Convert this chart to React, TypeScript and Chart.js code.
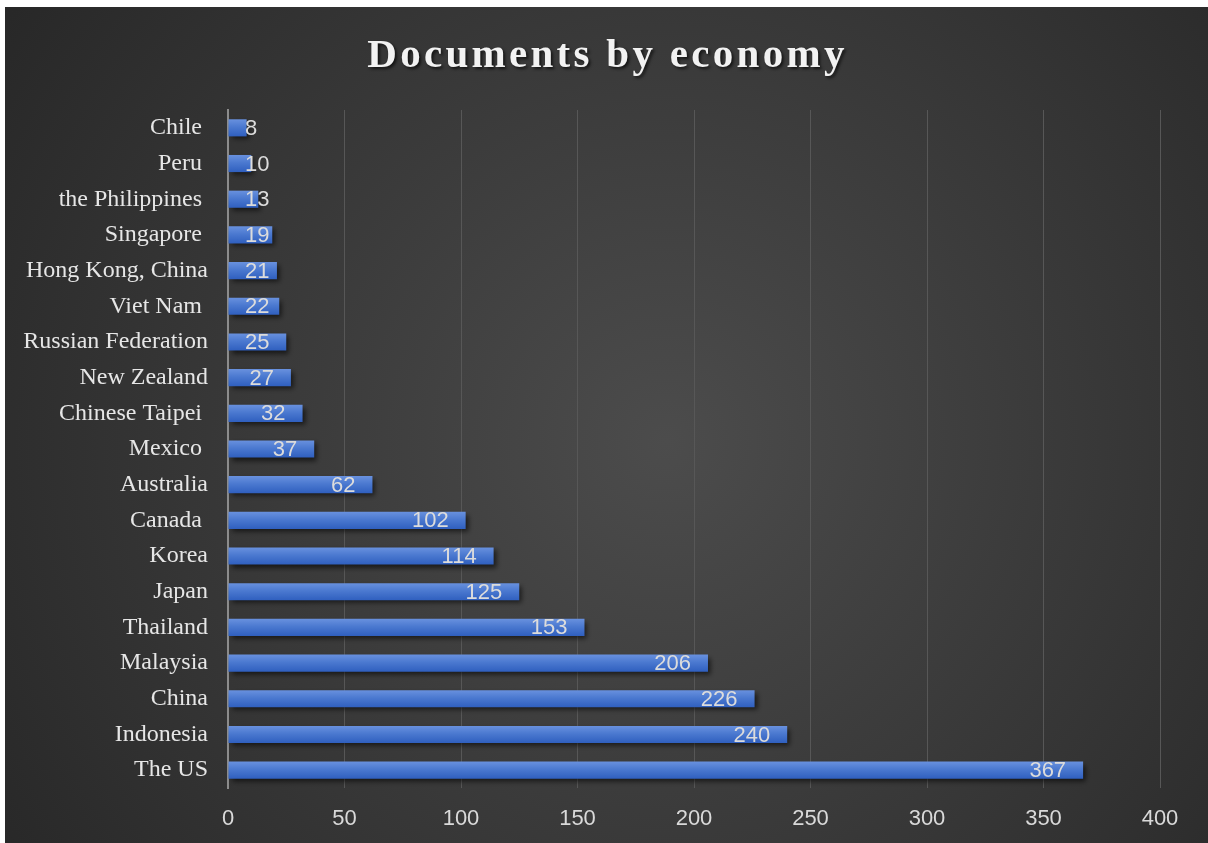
import React, { useEffect, useRef } from "react";
import { Chart, registerables } from "chart.js";

Chart.register(...registerables);

const TITLE = "Documents by economy";
const categories = [
  "Chile ",
  "Peru ",
  "the Philippines ",
  "Singapore ",
  "Hong Kong, China",
  "Viet Nam ",
  "Russian Federation",
  "New Zealand",
  "Chinese Taipei ",
  "Mexico ",
  "Australia",
  "Canada ",
  "Korea",
  "Japan",
  "Thailand",
  "Malaysia",
  "China",
  "Indonesia",
  "The US",
];
const documents = [8, 10, 13, 19, 21, 22, 25, 27, 32, 37, 62, 102, 114, 125, 153, 206, 226, 240, 367];
const xTicks = [0, 50, 100, 150, 200, 250, 300, 350, 400];

const W = 1203;
const H = 836;
const SERIF = "'Liberation Serif', 'Times New Roman', serif";
const SANS = "'Liberation Sans', Arial, sans-serif";

const bgPlugin = {
  id: "bgPlugin",
  beforeDraw(chart: any) {
    const { ctx, width, height } = chart;
    ctx.save();
    const g = ctx.createRadialGradient(width * 0.55, height * 0.52, 0, width * 0.55, height * 0.52, Math.hypot(width, height) * 0.58);
    g.addColorStop(0, "#4c4c4c");
    g.addColorStop(1, "#252525");
    ctx.fillStyle = g;
    ctx.fillRect(0, 0, width, height);
    ctx.restore();
  },
  afterDraw(chart: any) {
    const { ctx, width } = chart;
    ctx.save();
    ctx.font = `bold 41px ${SERIF}`;
    (ctx as any).letterSpacing = "3.3px";
    ctx.textAlign = "center";
    ctx.textBaseline = "alphabetic";
    ctx.fillStyle = "#f2f2f2";
    ctx.shadowColor = "rgba(0,0,0,0.65)";
    ctx.shadowBlur = 3;
    ctx.shadowOffsetX = 2;
    ctx.shadowOffsetY = 2;
    ctx.fillText(TITLE, width / 2 + 1, 60);
    ctx.restore();
  },
};

const shadowPlugin = {
  id: "shadowPlugin",
  beforeDatasetsDraw(chart: any) {
    const ctx = chart.ctx;
    ctx.save();
    ctx.shadowColor = "rgba(0,0,0,0.6)";
    ctx.shadowBlur = 5;
    ctx.shadowOffsetX = 3;
    ctx.shadowOffsetY = 3;
  },
  afterDatasetsDraw(chart: any) {
    const ctx = chart.ctx;
    ctx.restore();
    const meta = chart.getDatasetMeta(0);
    const left = chart.scales.x.getPixelForValue(0);
    ctx.save();
    ctx.font = `22px ${SANS}`;
    ctx.fillStyle = "#dcdcdc";
    ctx.textAlign = "left";
    ctx.textBaseline = "middle";
    meta.data.forEach((bar: any, i: number) => {
      const txt = String(documents[i]);
      const w = ctx.measureText(txt).width;
      const x = Math.max(bar.x - 17 - w, left + 17);
      ctx.fillText(txt, x, bar.y + 1);
    });
    ctx.restore();
  },
};

export default function App() {
  const ref = useRef<HTMLCanvasElement | null>(null);
  useEffect(() => {
    if (!ref.current) return;
    const chart = new Chart(ref.current, {
      type: "bar",
      data: {
        labels: categories,
        datasets: [
          {
            label: "Documents",
            data: documents,
            backgroundColor: (c: any) => {
              const ch = c.chart;
              const ys = ch.scales && ch.scales.y;
              if (!ys || c.dataIndex === undefined) return "#4a78cc";
              const y = ys.getPixelForValue(c.dataIndex);
              if (!isFinite(y)) return "#4a78cc";
              const g = ch.ctx.createLinearGradient(0, y - 9, 0, y + 9);
              g.addColorStop(0, "#6a92df");
              g.addColorStop(0.45, "#4b79d0");
              g.addColorStop(1, "#2e5ebe");
              return g;
            },
            borderWidth: 0,
            categoryPercentage: 1,
            barPercentage: 0.48,
          },
        ],
      },
      options: {
        indexAxis: "y",
        responsive: false,
        animation: false,
        layout: { padding: { top: 103, right: 48, left: 0, bottom: 0 } },
        plugins: {
          legend: { display: false },
          title: { display: false, text: TITLE },
          tooltip: { enabled: false },
        },
        scales: {
          x: {
            min: 0,
            max: 400,
            afterBuildTicks: (s: any) => {
              s.ticks = xTicks.map((v) => ({ value: v }));
            },
            afterFit: (s: any) => {
              s.height = 55;
            },
            grid: { color: "#575757", lineWidth: 1, drawTicks: false },
            border: { display: false },
            ticks: { color: "#d9d9d9", font: { family: SANS, size: 22 }, padding: 18 },
          },
          y: {
            afterFit: (s: any) => {
              s.width = 223;
            },
            grid: { display: false, drawTicks: false },
            border: { display: true, color: "#8c8c8c", width: 2 },
            ticks: { color: "#e6e6e6", font: { family: SERIF, size: 24 }, padding: 20 },
          },
        },
      },
      plugins: [bgPlugin, shadowPlugin],
    } as any);
    return () => chart.destroy();
  }, []);
  return (
    <div style={{ position: "absolute", left: 5, top: 7, width: W, height: H }}>
      <canvas ref={ref} width={W} height={H} style={{ display: "block" }} />
    </div>
  );
}
